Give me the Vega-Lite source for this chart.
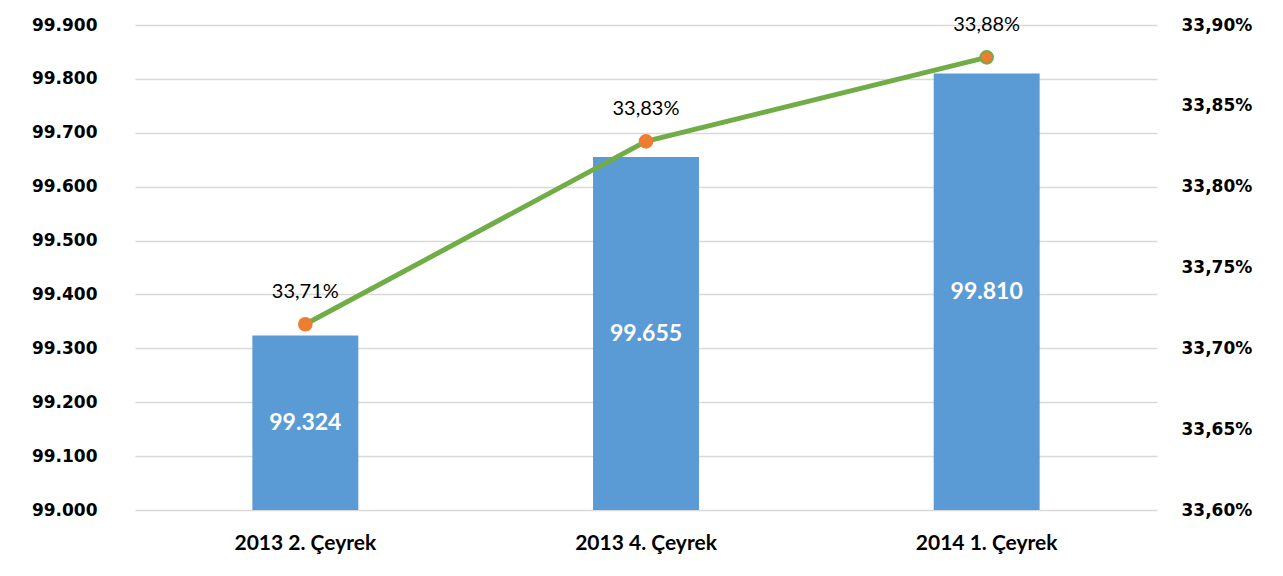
{
  "$schema": "https://vega.github.io/schema/vega-lite/v6.json",
  "autosize": {"type": "none"},
  "padding": {"left": 135, "top": 25, "right": 126, "bottom": 66},
  "width": 1022,
  "height": 485,
  "background": "white",
  "config": {
    "locale": {"number": {"decimal": ",", "thousands": ".", "grouping": [3], "currency": ["", " TL"], "percent": "%"}},
    "view": {"stroke": null},
    "axis": {"labelColor": "#000000", "ticks": false, "title": null}
  },
  "data": {"values": [
    {"donem": "2013 2. Çeyrek", "sayi": 99324, "oran": 0.337149},
    {"donem": "2013 4. Çeyrek", "sayi": 99655, "oran": 0.33828},
    {"donem": "2014 1. Çeyrek", "sayi": 99810, "oran": 0.3388}
  ]},
  "encoding": {
    "x": {
      "field": "donem", "type": "nominal", "sort": null,
      "scale": {"paddingInner": 0.689, "paddingOuter": 0.3445},
      "axis": {"labelAngle": 0, "labelFont": "Lato", "labelFontWeight": "bold", "labelFontSize": 21, "labelPadding": 22, "domain": false, "grid": false}
    }
  },
  "layer": [
    {
      "resolve": {"scale": {"y": "shared"}, "axis": {"y": "shared"}},
      "layer": [
        {
          "mark": {"type": "bar", "color": "#5B9BD5"},
          "encoding": {
            "y": {
              "field": "sayi", "type": "quantitative",
              "scale": {"domain": [99000, 99900], "nice": false, "zero": false},
              "axis": {"orient": "left", "format": ",.0f", "values": [99000, 99100, 99200, 99300, 99400, 99500, 99600, 99700, 99800, 99900],
                "labelFont": "DejaVu Sans", "labelFontWeight": "bold", "labelFontSize": 17, "labelPadding": 38,
                "domain": false, "grid": true, "gridColor": "#D9D9D9", "gridWidth": 1.5}
            },
            "y2": {"datum": 99000}
          }
        },
        {
          "transform": [{"calculate": "(datum.sayi + 99000) / 2", "as": "orta"}],
          "mark": {"type": "text", "color": "white", "font": "Lato", "fontWeight": "bold", "fontSize": 23, "baseline": "middle"},
          "encoding": {
            "y": {"field": "orta", "type": "quantitative"},
            "text": {"field": "sayi", "type": "quantitative", "format": ",.0f"}
          }
        }
      ]
    },
    {
      "resolve": {"scale": {"y": "shared"}, "axis": {"y": "shared"}},
      "layer": [
        {
          "mark": {"type": "line", "color": "#70AD47", "strokeWidth": 5},
          "encoding": {
            "y": {"field": "oran", "type": "quantitative", "scale": {"domain": [0.336, 0.339], "nice": false, "zero": false},
              "axis": {"orient": "right", "format": ".2%", "values": [0.336, 0.3365, 0.337, 0.3375, 0.338, 0.3385, 0.339],
                "labelFont": "DejaVu Sans", "labelFontWeight": "bold", "labelFontSize": 17, "labelPadding": 24,
                "domain": false, "grid": false}
            }
          }
        },
        {
          "mark": {"type": "point", "filled": true, "size": 160, "opacity": 1, "strokeWidth": 2},
          "encoding": {
            "y": {"field": "oran", "type": "quantitative"},
            "fill": {"value": "#ED7D31"},
            "stroke": {"condition": {"test": "datum.donem == '2014 1. Çeyrek'", "value": "#70AD47"}, "value": "#ED7D31"}
          }
        },
        {
          "mark": {"type": "text", "color": "#000000", "font": "Lato", "fontSize": 20, "baseline": "middle", "dy": -32},
          "encoding": {
            "y": {"field": "oran", "type": "quantitative"},
            "text": {"field": "oran", "type": "quantitative", "format": ".2%"}
          }
        }
      ]
    }
  ],
  "resolve": {"scale": {"y": "independent"}}
}
